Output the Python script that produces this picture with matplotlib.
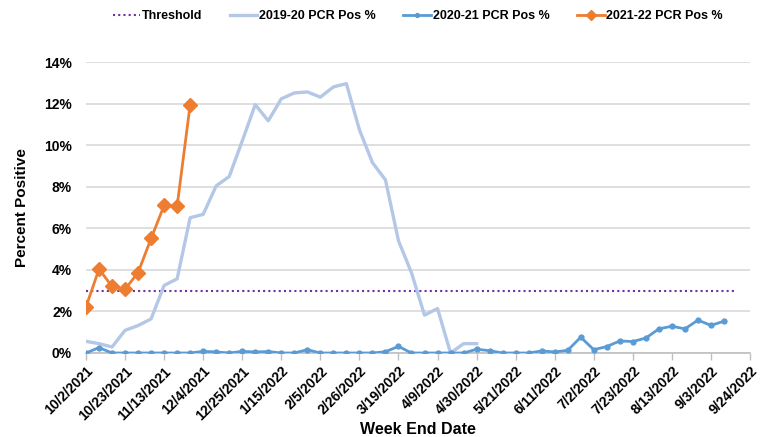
import matplotlib
matplotlib.use("Agg")
import matplotlib.pyplot as plt
from matplotlib.ticker import FuncFormatter, FixedLocator

plt.rcParams['font.family'] = ['Liberation Sans', 'DejaVu Sans']

week_labels = ["10/2/2021", "10/23/2021", "11/13/2021", "12/4/2021", "12/25/2021",
               "1/15/2022", "2/5/2022", "2/26/2022", "3/19/2022", "4/9/2022",
               "4/30/2022", "5/21/2022", "6/11/2022", "7/2/2022", "7/23/2022",
               "8/13/2022", "9/3/2022", "9/24/2022"]
n_weeks = 52

threshold = [3.0] * 51

pos_2019_20 = [0.56, 0.45, 0.29, 1.09, 1.32, 1.64, 3.25, 3.57, 6.51, 6.67,
               8.04, 8.49, 10.2, 11.95, 11.17, 12.23, 12.51, 12.56, 12.31, 12.8,
               12.96, 10.74, 9.16, 8.33, 5.40, 3.86, 1.82, 2.14, 0.0, 0.45, 0.45]

pos_2020_21 = [0.0, 0.26, 0.0, 0.0, 0.0, 0.0, 0.0, 0.0, 0.0, 0.08,
               0.05, 0.0, 0.08, 0.05, 0.07, 0.0, 0.0, 0.16, 0.0, 0.0,
               0.0, 0.0, 0.0, 0.06, 0.32, 0.0, 0.0, 0.0, 0.0, 0.0,
               0.18, 0.11, 0.0, 0.0, 0.0, 0.10, 0.05, 0.13, 0.76, 0.16,
               0.31, 0.58, 0.55, 0.72, 1.16, 1.29, 1.16, 1.58, 1.33, 1.53]

pos_2021_22 = [2.22, 4.04, 3.2, 3.07, 3.87, 5.51, 7.1, 7.07, 11.95]

fig = plt.figure(figsize=(7.61, 4.37), dpi=100)
ax = fig.add_axes([86/761, 1 - 353/437, (750 - 86)/761, (353 - 62)/437])

ax.plot(range(len(threshold)), threshold, color='#7030a0', lw=1.5, ls=(0, (1, 1.5)),
        label='Threshold', zorder=2)
ax.plot(range(len(pos_2019_20)), pos_2019_20, color='#b4c7e7', lw=2.4,
        label='2019-20 PCR Pos %', zorder=3)
ax.plot(range(len(pos_2020_21)), pos_2020_21, color='#5b9bd5', lw=2.0, marker='o',
        ms=3.5, label='2020-21 PCR Pos %', zorder=4)
ax.plot(range(len(pos_2021_22)), pos_2021_22, color='#ed7d31', lw=2.0, marker='D',
        ms=7, label='2021-22 PCR Pos %', zorder=5)

ax.set_xlim(0, n_weeks - 1)
ax.set_ylim(0, 14)
ax.set_yticks(range(0, 15, 2))
ax.yaxis.set_major_formatter(FuncFormatter(lambda v, p: f"{int(v)}%"))
ax.grid(axis='y', color='#d9d9d9', lw=1.2)
ax.set_axisbelow(True)

tick_pos = list(range(0, n_weeks, 3))
ax.xaxis.set_major_locator(FixedLocator(tick_pos))
ax.set_xticklabels(week_labels, rotation=45, ha='right', rotation_mode='anchor',
                   fontsize=10, fontweight='bold')
ax.tick_params(axis='x', length=5, color='#bfbfbf', width=1, pad=3)
ax.tick_params(axis='y', length=0, pad=10, labelsize=10)
for lab in ax.get_yticklabels():
    lab.set_fontweight('bold')

for s in ['top', 'right', 'left']:
    ax.spines[s].set_visible(False)
ax.spines['bottom'].set_color('#bfbfbf')
ax.spines['bottom'].set_linewidth(1.2)

ax.set_xlabel('Week End Date', fontsize=11.5, fontweight='bold', labelpad=-1)
ax.set_ylabel('Percent Positive', fontsize=11, fontweight='bold', labelpad=11)

fig.legend(loc='center', bbox_to_anchor=(0.549, 1 - 16/437), ncol=4, frameon=False,
           prop={'weight': 'bold', 'size': 9}, handlelength=2.2, columnspacing=2.2,
           handletextpad=0.15, markerscale=0.8)

fig.savefig('out.png', dpi=100)
